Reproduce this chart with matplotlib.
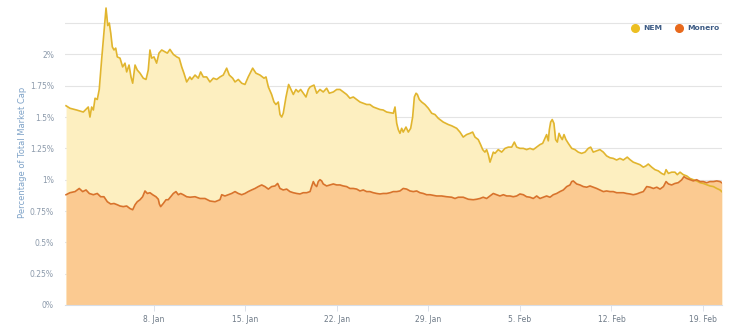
import numpy as np
import matplotlib
matplotlib.use('Agg')
import matplotlib.pyplot as plt
from matplotlib.lines import Line2D

plt.rcParams['font.family'] = ['DejaVu Sans']

# days since 1 Jan (0 = 1 Jan 00:00), share of total market cap in %
nem_day = [0.27, 0.57, 1.08, 1.59, 1.97, 2.10, 2.23, 2.36, 2.49, 2.66, 2.81, 2.99, 3.17, 3.33, 3.46,
           3.58, 3.69, 3.81, 3.94, 4.07, 4.19, 4.40, 4.60, 4.78, 4.91, 5.09, 5.24, 5.37, 5.55, 5.72,
           5.93, 6.18, 6.39, 6.56, 6.69, 6.82, 7.00, 7.20, 7.38, 7.59, 7.84, 8.02, 8.22, 8.48, 8.74,
           8.93, 9.12, 9.29, 9.50, 9.75, 9.88, 10.14, 10.39, 10.57, 10.77, 11.03, 11.28, 11.54, 11.80,
           12.05, 12.30, 12.56, 12.76, 13.02, 13.20, 13.45, 13.71, 13.96, 14.21, 14.55, 14.80, 15.11,
           15.42, 15.57, 15.75, 16.00, 16.18, 16.33, 16.51, 16.64, 16.77, 16.89, 17.10, 17.30, 17.48,
           17.66, 17.86, 18.04, 18.22, 18.42, 18.63, 18.81, 18.94, 19.24, 19.45, 19.70, 19.95, 20.21,
           20.41, 20.72, 20.98, 21.23, 21.48, 21.74, 21.99, 22.25, 22.51, 22.76, 23.01, 23.27, 23.52,
           23.78, 24.04, 24.29, 24.54, 24.80, 25.06, 25.31, 25.44, 25.57, 25.69, 25.82, 25.95, 26.07,
           26.28, 26.46, 26.64, 26.79, 26.92, 27.05, 27.15, 27.30, 27.48, 27.73, 27.99, 28.25, 28.50,
           28.75, 29.13, 29.52, 29.78, 30.16, 30.41, 30.66, 30.92, 31.18, 31.38, 31.56, 31.81, 31.99,
           32.15, 32.32, 32.45, 32.58, 32.71, 32.84, 32.96, 33.09, 33.34, 33.60, 33.86, 34.11, 34.37,
           34.57, 34.75, 35.00, 35.26, 35.51, 35.77, 36.02, 36.28, 36.53, 36.74, 36.91, 37.04, 37.17,
           37.25, 37.35, 37.47, 37.60, 37.73, 37.86, 37.99, 38.12, 38.24, 38.37, 38.52, 38.70, 38.96,
           39.21, 39.46, 39.72, 39.98, 40.23, 40.41, 40.61, 40.87, 41.12, 41.38, 41.63, 41.89, 42.14,
           42.40, 42.65, 42.91, 43.21, 43.42, 43.67, 43.93, 44.18, 44.44, 44.64, 44.82, 45.08, 45.33,
           45.59, 45.84, 46.05, 46.18, 46.36, 46.61, 46.86, 47.04, 47.25, 47.50, 47.76, 48.01, 48.27,
           48.52, 48.78, 49.03, 49.29, 49.54, 49.80, 50.06, 50.31, 50.44]
nem_pct = [1.59, 1.57, 1.556, 1.54, 1.58, 1.50, 1.58, 1.556, 1.65, 1.64, 1.72, 1.955, 2.17, 2.37, 2.23,
           2.25, 2.17, 2.06, 2.035, 2.05, 1.98, 1.97, 1.90, 1.93, 1.86, 1.915, 1.82, 1.77, 1.915, 1.875,
           1.85, 1.81, 1.80, 1.875, 2.035, 1.97, 1.98, 1.93, 2.01, 2.035, 2.02, 2.01, 2.04, 2.00, 1.98,
           1.97, 1.90, 1.85, 1.78, 1.82, 1.80, 1.835, 1.81, 1.86, 1.82, 1.82, 1.78, 1.81, 1.80,
           1.82, 1.835, 1.89, 1.835, 1.81, 1.78, 1.80, 1.77, 1.76, 1.82, 1.89, 1.85, 1.835,
           1.81, 1.82, 1.74, 1.68, 1.62, 1.60, 1.62, 1.52, 1.50, 1.53, 1.66, 1.76, 1.72,
           1.68, 1.72, 1.70, 1.72, 1.69, 1.66, 1.72, 1.74, 1.755, 1.69, 1.72, 1.70, 1.73,
           1.69, 1.70, 1.72, 1.72, 1.70, 1.68, 1.65, 1.66, 1.64, 1.62, 1.61, 1.60, 1.60,
           1.58, 1.57, 1.56, 1.556, 1.54, 1.535, 1.53, 1.58, 1.45, 1.40, 1.37, 1.41, 1.38,
           1.42, 1.38, 1.41, 1.50, 1.66, 1.69, 1.68, 1.64, 1.62, 1.60, 1.57, 1.53, 1.52,
           1.49, 1.46, 1.44, 1.43, 1.41, 1.38, 1.34, 1.36, 1.37, 1.38, 1.34, 1.32, 1.28,
           1.24, 1.22, 1.24, 1.20, 1.14, 1.18, 1.22, 1.21, 1.24, 1.22, 1.25, 1.26, 1.26,
           1.30, 1.26, 1.25, 1.25, 1.24, 1.25, 1.24, 1.26, 1.28, 1.29, 1.33, 1.36, 1.31,
           1.40, 1.46, 1.48, 1.45, 1.32, 1.30, 1.37, 1.34, 1.32, 1.36, 1.32, 1.29, 1.25,
           1.24, 1.22, 1.21, 1.22, 1.25, 1.26, 1.22, 1.23, 1.24, 1.22, 1.19, 1.175, 1.17,
           1.157, 1.17, 1.157, 1.18, 1.16, 1.14, 1.13, 1.12, 1.10, 1.11, 1.125, 1.10, 1.08,
           1.07, 1.05, 1.04, 1.08, 1.05, 1.06, 1.06, 1.04, 1.06, 1.04, 1.03, 1.01, 1.00,
           0.99, 0.976, 0.97, 0.96, 0.95, 0.945, 0.93, 0.918, 0.905]

xmr_day = [0.27, 0.57, 0.96, 1.28, 1.54, 1.80, 2.05, 2.36, 2.66, 2.92, 3.17, 3.43, 3.69, 3.94, 4.19,
           4.40, 4.65, 4.91, 5.16, 5.37, 5.55, 5.72, 5.93, 6.13, 6.31, 6.49, 6.69, 6.90, 7.15, 7.33,
           7.41, 7.51, 7.71, 7.92, 8.09, 8.28, 8.48, 8.68, 8.86, 9.04, 9.24, 9.50, 9.75, 10.14, 10.52,
           10.90, 11.28, 11.67, 12.05, 12.18, 12.43, 12.68, 12.94, 13.20, 13.45, 13.71, 13.96, 14.21,
           14.47, 14.73, 14.98, 15.24, 15.49, 15.75, 16.00, 16.26, 16.46, 16.64, 16.89, 17.15, 17.40,
           17.66, 17.92, 18.17, 18.42, 18.68, 18.94, 19.06, 19.19, 19.32, 19.45, 19.57, 19.70, 19.83,
           19.95, 20.21, 20.47, 20.72, 20.98, 21.23, 21.48, 21.74, 21.99, 22.25, 22.51, 22.76, 23.01,
           23.27, 23.52, 23.78, 24.04, 24.29, 24.54, 24.80, 25.06, 25.31, 25.57, 25.82, 26.07, 26.33,
           26.59, 26.84, 27.10, 27.35, 27.61, 27.86, 28.12, 28.63, 29.01, 29.39, 29.78, 30.03, 30.28,
           30.66, 31.05, 31.43, 31.69, 31.94, 32.19, 32.45, 32.71, 32.96, 33.22, 33.47, 33.73, 33.99,
           34.24, 34.49, 34.75, 35.00, 35.26, 35.51, 35.77, 36.02, 36.28, 36.53, 36.79, 37.04, 37.30,
           37.55, 37.81, 38.06, 38.32, 38.58, 38.83, 38.96, 39.08, 39.34, 39.59, 39.85, 40.11, 40.36,
           40.61, 40.87, 41.12, 41.38, 41.63, 41.89, 42.14, 42.40, 42.65, 42.91, 43.16, 43.42, 43.67,
           43.93, 44.18, 44.44, 44.70, 44.96, 45.21, 45.47, 45.72, 45.98, 46.18, 46.36, 46.61, 46.86,
           47.11, 47.37, 47.55, 47.76, 48.01, 48.27, 48.52, 48.78, 49.03, 49.29, 49.54, 49.80, 50.06,
           50.31, 50.44]
xmr_pct = [0.88, 0.896, 0.905, 0.93, 0.905, 0.918, 0.89, 0.88, 0.89, 0.864, 0.864, 0.824, 0.806, 0.81, 0.80,
           0.79, 0.785, 0.79, 0.77, 0.76, 0.80, 0.824, 0.84, 0.864, 0.91, 0.89, 0.896, 0.88, 0.864, 0.844,
           0.806, 0.785, 0.81, 0.84, 0.84, 0.864, 0.89, 0.905, 0.88, 0.89, 0.88, 0.864, 0.86, 0.864, 0.85,
           0.85, 0.83, 0.824, 0.84, 0.88, 0.87, 0.88, 0.89, 0.905, 0.89, 0.88, 0.89, 0.905,
           0.918, 0.93, 0.945, 0.958, 0.945, 0.925, 0.945, 0.95, 0.97, 0.93, 0.918, 0.925, 0.905,
           0.896, 0.89, 0.886, 0.896, 0.896, 0.905, 0.945, 0.985, 0.958, 0.945, 0.985, 1.00, 0.99,
           0.966, 0.95, 0.958, 0.966, 0.958, 0.958, 0.95, 0.945, 0.93, 0.93, 0.925, 0.91, 0.918,
           0.905, 0.905, 0.896, 0.89, 0.886, 0.89, 0.89, 0.896, 0.905, 0.905, 0.91, 0.93, 0.925,
           0.91, 0.905, 0.91, 0.896, 0.89, 0.88, 0.88, 0.87, 0.87, 0.864, 0.86, 0.85, 0.86,
           0.86, 0.844, 0.84, 0.844, 0.85, 0.86, 0.85, 0.87, 0.89, 0.88, 0.87, 0.88, 0.87,
           0.87, 0.864, 0.87, 0.886, 0.88, 0.864, 0.86, 0.85, 0.87, 0.85, 0.86, 0.87, 0.86,
           0.88, 0.89, 0.905, 0.918, 0.945, 0.958, 0.985, 0.99, 0.966, 0.958, 0.945, 0.94, 0.95,
           0.94, 0.93, 0.918, 0.905, 0.91, 0.905, 0.905, 0.896, 0.896, 0.896, 0.89, 0.886, 0.88,
           0.886, 0.896, 0.905, 0.945, 0.94, 0.93, 0.94, 0.925, 0.945, 0.985, 0.966, 0.958, 0.97,
           0.976, 0.998, 1.024, 1.01, 1.00, 0.99, 1.00, 0.985, 0.985, 0.976, 0.985, 0.985, 0.99,
           0.985, 0.976]

tick_days = [7, 14, 21, 28, 35, 42, 49]
tick_labels = ['8. Jan', '15. Jan', '22. Jan', '29. Jan', '5. Feb', '12. Feb', '19. Feb']
y_ticks = [0, 0.25, 0.5, 0.75, 1, 1.25, 1.5, 1.75, 2]
y_labels = ['0%', '0.25%', '0.5%', '0.75%', '1%', '1.25%', '1.5%', '1.75%', '2%']

fig = plt.figure(figsize=(7.5, 3.25), dpi=100)
ax = fig.add_axes([65 / 750, 20 / 325, 657 / 750, 305 / 325])

ax.fill_between(nem_day, 0, nem_pct, color='#fdefc0', lw=0)
ax.fill_between(xmr_day, 0, xmr_pct, color='#fbca91', lw=0)
ax.plot(nem_day, nem_pct, color='#e1b52e', lw=1.2)
ax.plot(xmr_day, xmr_pct, color='#d8732c', lw=1.2)

# gridlines incl. the unlabeled 2.25% line
for g in y_ticks[1:] + [2.25]:
    ax.axhline(g, color='#e4e4e4', lw=0.8, zorder=0.5)

ax.set_xlim(0.19, 50.46)
ax.set_ylim(0, 2.434)
ax.set_yticks(y_ticks)
ax.set_yticklabels(y_labels)
ax.set_xticks(tick_days)
ax.set_xticklabels(tick_labels)
ax.tick_params(axis='y', length=0, pad=8, labelsize=5.5, labelcolor='#8c9aab')
ax.tick_params(axis='x', length=4, width=0.6, color='#d8dde6', pad=3, labelsize=5.5, labelcolor='#6f7b88')

for s in ['top', 'right', 'left']:
    ax.spines[s].set_visible(False)
ax.spines['bottom'].set_color('#d8dde6')
ax.spines['bottom'].set_linewidth(0.8)

ax.set_ylabel('Percentage of Total Market Cap', fontsize=6, color='#7fa3c8', labelpad=2)

handles = [Line2D([], [], marker='o', ls='', color='#ecbf22', markersize=5.5),
           Line2D([], [], marker='o', ls='', color='#e8691c', markersize=5.5)]
ax.legend(handles, ['NEM', 'Monero'], loc='upper right', bbox_to_anchor=(1.006, 0.94), ncol=2,
          frameon=False, labelcolor='#3e5c85', handletextpad=0.05, columnspacing=1.3,
          prop={'weight': 'bold', 'size': 5.4})

fig.savefig('out.png', dpi=100)
